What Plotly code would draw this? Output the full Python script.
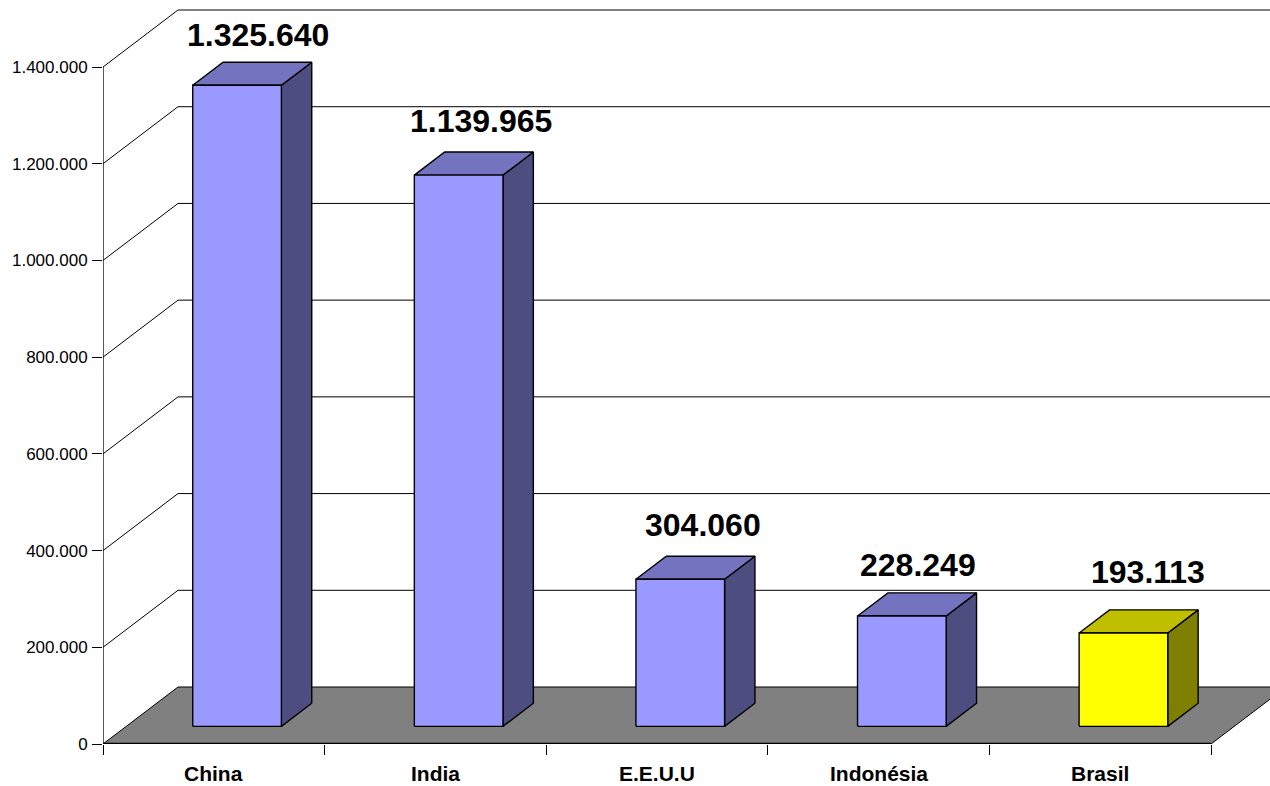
import plotly.graph_objects as go

# ---- data ----
categories = ["China", "India", "E.E.U.U", "Indonésia", "Brasil"]
population = [1325640, 1139965, 304060, 228249, 193113]
y_ticks = [0, 200000, 400000, 600000, 800000, 1000000, 1200000, 1400000]
front_colors = ["#9999FF", "#9999FF", "#9999FF", "#9999FF", "#FFFF00"]
top_colors = ["#7373BF", "#7373BF", "#7373BF", "#7373BF", "#BFBF00"]
side_colors = ["#4D4D80", "#4D4D80", "#4D4D80", "#4D4D80", "#808000"]

# ---- label nudges (px, relative to the bar's back top edge) ----
label_dx = [-9, -8.5, -7.5, -14.5, -6]
label_lift = [27, 31, 31, 28, 38]

# ---- frame geometry (px) ----
W, H = 1270, 786
X0_PX, X5_PX = 103.0, 1211.0
Y0_PX, YMAX_PX = 744.0, 67.0
TOP_PX = 4.0
CAT_LABEL_PX = 773
PX_PER_CAT = (X5_PX - X0_PX) / 5
PX_PER_UNIT = (Y0_PX - YMAX_PX) / y_ticks[-1]

# oblique depth of the pseudo 3D box, expressed in axis units
DX = 75 / PX_PER_CAT
DY = 57 / PX_PER_UNIT
BAR_WIDTH = 1 / 2.5
BAR_START = 0.31
BAR_DEPTH = 0.405


def proj(cat, value, depth=0.0):
    return cat + depth * DX, value + depth * DY


def poly(points, fill=None, line="black", width=1.0):
    xs = [p[0] for p in points]
    ys = [p[1] for p in points]
    kw = dict(fill="toself", fillcolor=fill) if fill else {}
    if fill:
        xs.append(xs[0])
        ys.append(ys[0])
    return go.Scatter(x=xs, y=ys, mode="lines", line=dict(color=line, width=width),
                      hoverinfo="skip", showlegend=False, cliponaxis=False, **kw)


n = len(categories)
fig = go.Figure()

# back wall + left wall grid lines
for v in y_ticks[1:]:
    fig.add_trace(poly([proj(0, v), proj(0, v, 1), proj(n + 1, v, 1)]))

# floor
fig.add_trace(poly([proj(0, 0), proj(n, 0), proj(n, 0, 1), proj(0, 0, 1)], fill="#808080", width=1.0))

# axis lines
fig.add_trace(poly([proj(0, 0), proj(0, y_ticks[-1])], width=1.3))
fig.add_trace(poly([proj(0, 0), proj(n, 0)], width=2.4))

# bars
for i, v in enumerate(population):
    left = i + (1 - BAR_WIDTH) / 2
    right = left + BAR_WIDTH
    d0 = BAR_START
    d1 = BAR_START + BAR_DEPTH
    fig.add_trace(poly([proj(right, 0, d0), proj(right, 0, d1), proj(right, v, d1), proj(right, v, d0)],
                       fill=side_colors[i], width=1.4))
    fig.add_trace(poly([proj(left, v, d0), proj(right, v, d0), proj(right, v, d1), proj(left, v, d1)],
                       fill=top_colors[i], width=1.4))
    fig.add_trace(poly([proj(left, 0, d0), proj(right, 0, d0), proj(right, v, d0), proj(left, v, d0)],
                       fill=front_colors[i], width=1.4))

annotations = []
for i, (c, v) in enumerate(zip(categories, population)):
    # category label below the axis
    annotations.append(dict(x=i + 0.5, y=0, text=f"<b>{c}</b>", showarrow=False,
                            yanchor="middle", xanchor="center", borderpad=0,
                            yshift=-(CAT_LABEL_PX - Y0_PX),
                            font=dict(family="Liberation Sans", size=21, color="black")))
    # value label above the bar
    x, y = proj(i + 0.5, v, BAR_START + BAR_DEPTH)
    annotations.append(dict(x=x, y=y, text="<b>" + f"{v:,d}".replace(",", ".") + "</b>", showarrow=False,
                            xanchor="center", yanchor="middle",
                            xshift=label_dx[i], yshift=label_lift[i],
                            font=dict(family="Liberation Sans", size=32, color="black")))

x_max = (W - X0_PX) / PX_PER_CAT
y_max = (Y0_PX - TOP_PX) / PX_PER_UNIT

fig.update_layout(
    width=W, height=H,
    margin=dict(l=X0_PX, r=0, t=TOP_PX, b=H - Y0_PX, autoexpand=False),
    paper_bgcolor="white", plot_bgcolor="white",
    separators=",.",
    showlegend=False,
    annotations=annotations,
    font=dict(family="Liberation Sans", color="black"),
    xaxis=dict(range=[0, x_max], tickmode="array", tickvals=list(range(n + 1)), ticks="outside",
               ticklen=10, tickwidth=1.2, tickcolor="black", showticklabels=False,
               showgrid=False, zeroline=False, showline=False, fixedrange=True),
    yaxis=dict(range=[0, y_max], tickmode="array", tickvals=y_ticks, tickformat=",d", ticks="outside",
               ticklen=10, tickwidth=1.2, tickcolor="black", ticklabelstandoff=1,
               tickfont=dict(family="Liberation Sans", size=17, color="black"),
               showgrid=False, zeroline=False, showline=False, fixedrange=True),
)

fig.write_html("out.html", config=dict(displayModeBar=False),
               post_script="document.body.style.margin='0';document.body.style.overflow='hidden';")
